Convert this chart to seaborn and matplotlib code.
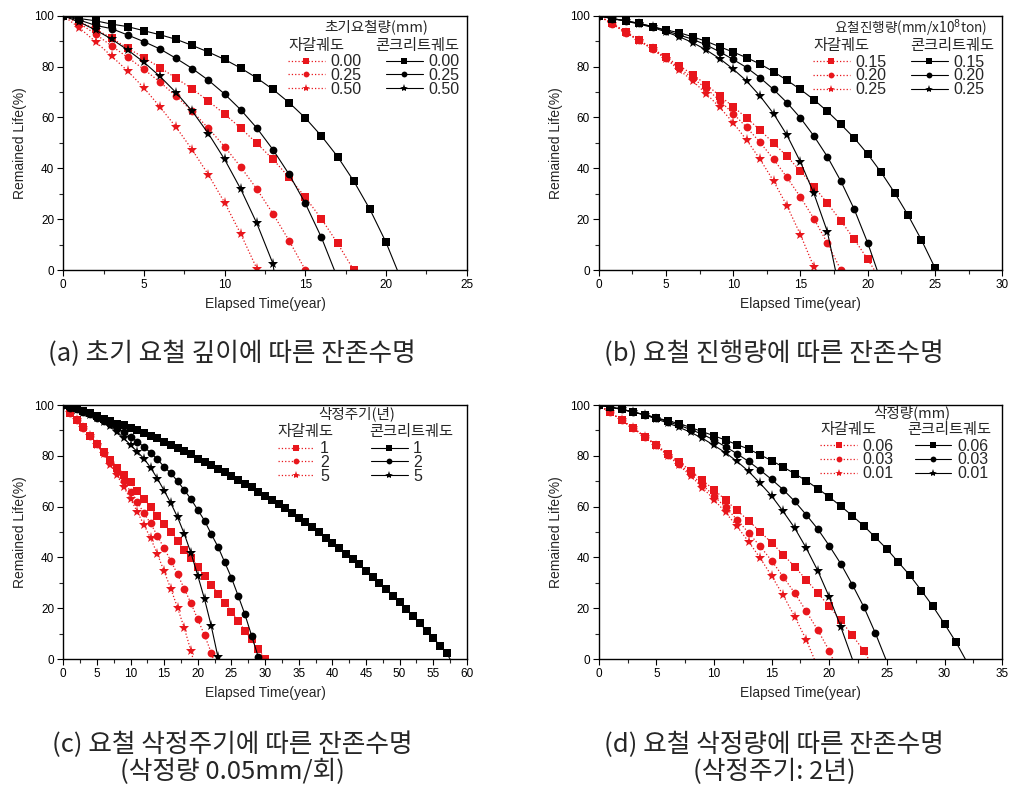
import numpy as np
import matplotlib
matplotlib.use("Agg")
import matplotlib.pyplot as plt
from matplotlib.lines import Line2D
from matplotlib.ticker import MultipleLocator
import seaborn as sns

# ---------------- data (Remained Life %, one value per elapsed year starting at 0) ----------------
# (a) initial irregularity depth (mm)
a_labels = ["0.00", "0.25", "0.50"]
a_gravel_000 = [100, 97.6, 94.7, 91.2, 87.2, 83.5, 79.6, 75.4, 71.2, 66.4, 61.3, 55.8, 49.8, 43.5, 36.4, 28.6, 20.1, 10.5, 0.0]
a_gravel_025 = [100, 97.0, 92.8, 88.1, 83.6, 78.9, 73.9, 68.3, 62.4, 55.7, 48.5, 40.5, 31.8, 22.1, 11.5, 0.0]
a_gravel_050 = [100, 95.2, 89.8, 84.1, 78.2, 71.6, 64.1, 56.1, 47.2, 37.4, 26.5, 14.2, 0.5]
a_concrete_000 = [100, 98.9, 98.0, 96.7, 95.7, 94.1, 92.5, 90.7, 88.3, 85.7, 82.8, 79.4, 75.5, 71.0, 65.8, 59.8, 52.7, 44.6, 35.0, 23.9, 10.9]
a_concrete_025 = [100, 98.3, 96.2, 94.9, 92.4, 89.8, 86.9, 83.2, 79.2, 74.6, 69.2, 63.0, 55.8, 47.3, 37.6, 26.2, 12.8]
a_concrete_050 = [100, 97.5, 94.4, 90.8, 86.5, 81.7, 76.1, 69.7, 62.4, 53.6, 43.5, 31.8, 18.3, 2.4]
a_gravel_end = [None, None, None]          # year where the line reaches 0 %
a_concrete_end = [20.7, 16.8, 13.05]

# (b) irregularity growth rate (mm / 10^8 ton)
b_labels = ["0.15", "0.20", "0.25"]
b_gravel_015 = [100, 97.0, 93.7, 90.4, 87.2, 83.6, 80.3, 76.8, 72.9, 68.5, 64.2, 59.8, 55.0, 49.9, 44.7, 38.9, 32.8, 26.3, 19.4, 12.1, 4.2]
b_gravel_020 = [100, 96.9, 93.4, 90.3, 86.9, 83.2, 79.4, 75.4, 71.4, 66.6, 61.5, 56.1, 50.2, 43.6, 36.4, 28.7, 20.2, 10.6, 0.1]
b_gravel_025 = [100, 96.7, 93.4, 90.2, 86.8, 83.0, 78.6, 74.3, 69.3, 64.0, 57.9, 51.1, 43.5, 35.0, 25.2, 13.9, 1.2]
b_concrete_015 = [100, 98.9, 98.0, 97.0, 95.7, 94.4, 93.3, 91.7, 89.9, 87.8, 85.7, 83.5, 81.0, 78.0, 74.6, 71.0, 67.0, 62.4, 57.3, 51.9, 45.6, 38.4, 30.4, 21.6, 11.8, 0.9]
b_concrete_020 = [100, 98.9, 98.0, 97.0, 95.7, 94.1, 92.4, 90.7, 88.5, 85.8, 82.8, 79.6, 75.6, 71.0, 65.8, 59.8, 52.7, 44.6, 35.0, 23.9, 10.7]
b_concrete_025 = [100, 98.8, 97.9, 96.7, 95.4, 93.6, 91.7, 89.4, 86.5, 83.1, 79.0, 74.3, 68.4, 61.5, 53.0, 42.5, 30.1, 15.1]
b_gravel_end = [20.5, None, None]
b_concrete_end = [25.05, 20.7, 17.6]

# (c) grinding period (years)
c_labels = ["1", "2", "5"]
c_gravel_1 = [100, 97.0, 94.1, 91.2, 87.8, 84.6, 81.4, 78.3, 75.1, 72.4, 69.5, 66.3, 63.0, 59.7, 56.3, 53.1, 49.9, 46.6, 42.9, 39.9,
              36.4, 32.8, 29.3, 25.7, 22.2, 18.6, 15.0, 11.2, 7.7, 3.8, 0.1]
c_gravel_2 = [100, 97.0, 94.0, 91.0, 88.0, 84.5, 81.2, 77.7, 74.1, 70.1, 65.9, 61.9, 57.3, 53.4, 48.4, 43.6, 38.6, 33.3, 27.6, 21.9,
              15.6, 9.4, 2.5]
c_gravel_5 = [100, 97.0, 94.0, 91.0, 87.8, 84.3, 80.6, 76.4, 72.4, 67.6, 63.0, 58.0, 52.8, 47.5, 41.3, 34.5, 27.6, 20.1, 12.1, 3.0]
c_concrete_1 = [100, 99.6, 98.8, 97.8, 96.7, 95.7, 94.6, 93.8, 92.7, 92.0, 90.8, 90.0, 88.8, 87.9, 86.9, 85.3, 84.3, 82.9, 81.9, 80.6,
                78.7, 77.7, 76.4, 74.9, 73.5, 71.9, 70.5, 68.9, 67.6, 65.9, 64.3, 62.6, 61.0, 59.3, 57.5, 55.6, 53.8, 52.0, 49.9, 47.8,
                45.7, 43.8, 41.5, 39.5, 37.3, 34.6, 32.4, 30.1, 27.6, 24.9, 22.4, 19.6, 16.8, 14.0, 11.2, 8.4, 5.2, 2.2]
c_concrete_2 = [100, 99.0, 98.3, 97.3, 96.3, 95.0, 93.8, 92.5, 91.0, 89.2, 87.5, 85.6, 83.5, 81.2, 78.6, 75.7, 73.1, 70.0, 66.5, 62.9,
                58.7, 54.5, 49.2, 44.2, 38.1, 32.0, 24.9, 17.6, 9.2, 0.7]
c_concrete_5 = [100, 99.0, 98.2, 97.0, 96.0, 94.7, 93.3, 91.6, 89.5, 86.9, 84.3, 81.6, 78.9, 75.3, 71.0, 66.3, 61.3, 55.8, 49.2, 41.6,
                32.8, 23.6, 13.0, 0.7]
c_gravel_end = [None, 22.3, 19.3]
c_concrete_end = [57.5, None, None]

# (d) grinding depth (mm)
d_labels = ["0.06", "0.03", "0.01"]
d_gravel_006 = [100, 97.1, 94.0, 91.1, 87.5, 84.4, 80.6, 77.7, 73.9, 70.3, 66.7, 62.6, 58.5, 54.5, 50.1, 45.8, 41.1, 36.4, 31.2, 26.0,
                20.7, 15.2, 9.3, 3.3]
d_gravel_003 = [100, 97.1, 94.0, 90.8, 87.5, 84.1, 80.4, 76.8, 72.8, 68.6, 64.2, 59.7, 54.9, 49.7, 44.4, 38.7, 32.4, 26.0, 18.8, 11.4, 3.3]
d_gravel_001 = [100, 97.1, 94.0, 90.8, 87.5, 83.9, 80.1, 76.2, 72.0, 67.5, 62.8, 57.7, 52.2, 46.2, 39.8, 32.7, 25.1, 16.7, 7.6]
d_concrete_006 = [100, 99.2, 98.3, 97.2, 96.2, 95.0, 93.8, 92.7, 91.1, 89.5, 87.9, 86.2, 84.4, 82.7, 80.4, 78.1, 75.6, 73.0, 70.2, 67.1,
                  63.8, 60.2, 56.4, 52.4, 47.9, 43.3, 38.1, 32.9, 26.9, 20.7, 13.8, 6.6]
d_concrete_003 = [100, 99.2, 98.3, 97.2, 96.2, 94.9, 93.4, 92.0, 90.3, 88.5, 86.2, 83.6, 80.8, 77.8, 74.4, 70.7, 66.7, 62.1, 56.8, 51.2,
                  44.6, 37.5, 29.3, 20.5, 10.2]
d_concrete_001 = [100, 99.2, 98.3, 97.2, 96.1, 94.5, 92.9, 91.2, 89.2, 86.9, 84.1, 81.2, 77.8, 73.9, 69.2, 64.2, 58.1, 51.6, 43.7, 34.8,
                  24.4, 12.7]
d_gravel_end = [23.4, 20.3, 18.7]
d_concrete_end = [31.8, 24.9, 22.0]

x_limits = [25, 30, 60, 35]
legend_titles = ["초기요철량(mm)", "요철진행량(mm/x10$^{8}$ton)", "삭정주기(년)", "삭정량(mm)"]
captions = [
    ["(a) 초기 요철 깊이에 따른 잔존수명"],
    ["(b) 요철 진행량에 따른 잔존수명"],
    ["(c) 요철 삭정주기에 따른 잔존수명", "(삭정량 0.05mm/회)"],
    ["(d) 요철 삭정량에 따른 잔존수명", "(삭정주기: 2년)"],
]
header_gravel = "자갈궤도"
header_concrete = "콘크리트궤도"
x_label = "Elapsed Time(year)"
y_label = "Remained Life(%)"

# ---------------- style ----------------
sns.set_theme(style="ticks")
plt.rcParams['font.family'] = ['Liberation Sans', 'Noto Sans CJK KR', 'DejaVu Sans']
plt.rcParams['axes.unicode_minus'] = False
KR = ['Noto Sans CJK KR', 'DejaVu Sans']

RED = '#e8161c'
BLACK = '#000000'
MARKERS = ['s', 'o', '*']
MSIZE = [5.2, 5.6, 8.0]


def series_xy(y, end):
    x = [float(i) for i in range(len(y))]
    yy = [float(v) for v in y]
    if end is not None:
        x.append(end)
        yy.append(0.0)
    return x, yy


def draw_group(ax, ys, ends, color, ls, lw):
    for i, (y, e) in enumerate(zip(ys, ends)):
        x, yy = series_xy(y, e)
        sns.lineplot(x=x, y=yy, ax=ax, color=color, linestyle=ls, linewidth=lw,
                     marker=MARKERS[i], markersize=MSIZE[i], markeredgewidth=0,
                     markeredgecolor=color, markerfacecolor=color,
                     markevery=list(range(len(y))), estimator=None, sort=False,
                     errorbar=None, legend=False)


def add_legend(ax, labels, title, title_xy, hdr_y, g_x, c_x, hdr_c_x, mid_y, title_size):
    g_h = [Line2D([], [], color=RED, linestyle=':', lw=0.9, marker=m, markersize=s,
                  markeredgewidth=0) for m, s in zip(MARKERS, MSIZE)]
    c_h = [Line2D([], [], color=BLACK, linestyle='-', lw=0.8, marker=m, markersize=s,
                  markeredgewidth=0) for m, s in zip(MARKERS, MSIZE)]
    kw = dict(loc='center left', frameon=False, borderpad=0, borderaxespad=0,
              handlelength=2.3, handletextpad=0.35, labelspacing=-0.08, markerscale=0.75,
              prop={'family': ['Liberation Sans'], 'size': 11.5})
    leg1 = ax.legend(g_h, labels, bbox_to_anchor=(g_x, mid_y), **kw)
    ax.add_artist(leg1)
    ax.legend(c_h, labels, bbox_to_anchor=(c_x, mid_y), **kw)
    ax.text(title_xy[0], title_xy[1], title, transform=ax.transAxes, ha='center', va='center',
            fontsize=title_size, family=['Noto Sans CJK KR', 'DejaVu Sans'])
    ax.text(g_x, hdr_y, header_gravel, transform=ax.transAxes, ha='left', va='center',
            fontsize=11, family=KR)
    ax.text(hdr_c_x, hdr_y, header_concrete, transform=ax.transAxes, ha='left', va='center',
            fontsize=11, family=KR)


fig = plt.figure(figsize=(10.27, 7.9), dpi=100)
positions = [
    [0.0616, 0.6582, 0.3928, 0.3219],
    [0.5830, 0.6582, 0.3928, 0.3219],
    [0.0616, 0.1658, 0.3930, 0.3215],
    [0.5830, 0.1658, 0.3928, 0.3215],
]
panels = [
    ([a_gravel_000, a_gravel_025, a_gravel_050], a_gravel_end,
     [a_concrete_000, a_concrete_025, a_concrete_050], a_concrete_end, a_labels),
    ([b_gravel_015, b_gravel_020, b_gravel_025], b_gravel_end,
     [b_concrete_015, b_concrete_020, b_concrete_025], b_concrete_end, b_labels),
    ([c_gravel_1, c_gravel_2, c_gravel_5], c_gravel_end,
     [c_concrete_1, c_concrete_2, c_concrete_5], c_concrete_end, c_labels),
    ([d_gravel_006, d_gravel_003, d_gravel_001], d_gravel_end,
     [d_concrete_006, d_concrete_003, d_concrete_001], d_concrete_end, d_labels),
]
# legend layout (axes fractions): title xy, header y, gravel x, concrete x, concrete header x, middle row y, title size
legend_layout = [
    ((0.776, 0.955), 0.882, 0.557, 0.800, 0.773, 0.765, 10.5),
    ((0.774, 0.952), 0.883, 0.531, 0.774, 0.772, 0.763, 9.8),
    ((0.726, 0.965), 0.895, 0.531, 0.762, 0.757, 0.774, 10.5),
    ((0.777, 0.969), 0.902, 0.549, 0.783, 0.764, 0.784, 10.5),
]

for k in range(4):
    ax = fig.add_axes(positions[k])
    g_ys, g_end, c_ys, c_end, labels = panels[k]
    draw_group(ax, g_ys, g_end, RED, ':', 0.9)
    draw_group(ax, c_ys, c_end, BLACK, '-', 0.8)
    ax.set_xlim(0, x_limits[k])
    ax.set_ylim(0, 100)
    ax.xaxis.set_major_locator(MultipleLocator(5))
    ax.xaxis.set_minor_locator(MultipleLocator(2.5))
    ax.yaxis.set_major_locator(MultipleLocator(20))
    ax.yaxis.set_minor_locator(MultipleLocator(10))
    ax.tick_params(which='major', direction='out', length=4.5, width=0.8, labelsize=8.5,
                   colors='black', top=False, right=False, pad=2)
    ax.tick_params(which='minor', direction='out', length=2.8, width=0.8, top=False, right=False)
    for sp in ax.spines.values():
        sp.set_visible(True)
        sp.set_color('black')
        sp.set_linewidth(1.0)
    ax.set_xlabel(x_label, fontsize=10, labelpad=4)
    ax.set_ylabel(y_label, fontsize=10, labelpad=5)
    ax.set_facecolor('white')
    t_xy, hy, gx, cx, hcx, my, ts = legend_layout[k]
    add_legend(ax, labels, legend_titles[k], t_xy, hy, gx, cx, hcx, my, ts)

caption_x = [0.226, 0.7536, 0.226, 0.7536]
caption_y = [[0.552], [0.552], [0.057, 0.0225], [0.057, 0.0225]]
for cx, ys, lines in zip(caption_x, caption_y, captions):
    for cy, line in zip(ys, lines):
        fig.text(cx, cy, line, ha='center', va='center', fontsize=18.5, family=KR)

fig.savefig("out.png", dpi=100, facecolor='white')
